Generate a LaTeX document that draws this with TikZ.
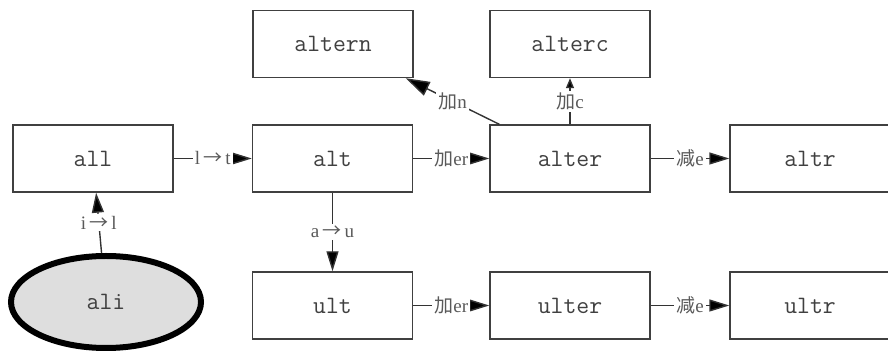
\documentclass[tikz,border=0pt]{standalone}
\usepackage{fontspec}
\setmainfont{Liberation Serif}
\newfontfamily\cjk{Noto Sans CJK SC}
\usetikzlibrary{arrows.meta,shapes.geometric}

\begin{document}
\begin{tikzpicture}[x=0.5pt, y=-0.5pt,
    word/.style={draw=black!75, line width=0.7pt, minimum width=80pt, minimum height=33.5pt,
        inner sep=0pt, text=black!75, font=\ttfamily\fontsize{12.5}{14}\selectfont},
    root/.style={ellipse, draw=black, line width=3pt, fill=black!13, minimum width=95pt,
        minimum height=46pt, inner sep=0pt, text=black!75, font=\ttfamily\fontsize{12.5}{14}\selectfont},
    rule/.style={draw=black!80, line width=0.7pt, -{Triangle[length=10pt, width=6pt, fill=black]}},
    tag/.style={fill=white, inner sep=1pt, text=black!65, font=\fontsize{9.5}{11}\selectfont}]

    % Page frame (pixel grid of the reference)
    \useasboundingbox (0,0) rectangle (888,351);

    % Word boxes
    \node[word] (all)    at (93, 158.5)  {all};
    \node[word] (alt)    at (332.5, 158.5) {alt};
    \node[word] (alter)  at (570, 158.5) {alter};
    \node[word] (altr)   at (810, 158.5) {altr};
    \node[word] (altern) at (333, 44)    {altern};
    \node[word] (alterc) at (570, 44)    {alterc};
    \node[word] (ult)    at (332.5, 305.5) {ult};
    \node[word] (ulter)  at (570, 305.5) {ulter};
    \node[word] (ultr)   at (810, 305.5) {ultr};

    % Starting word
    \node[root] (ali) at (106, 302) {ali};

    % Letter changes
    \draw[rule] (ali) -- node[tag] {i\,{\cjk →}\,l} (all);
    \draw[rule] (all) -- node[tag] {l\,{\cjk →}\,t} (alt);
    \draw[rule] (alt) -- node[tag] {a\,{\cjk →}\,u} (ult);

    % Adding and removing endings
    \draw[rule] (alt) -- node[tag] {{\cjk 加}er} (alter);
    \draw[rule] (ult) -- node[tag] {{\cjk 加}er} (ulter);
    \draw[rule] (alter) -- node[tag] {{\cjk 减}e} (altr);
    \draw[rule] (ulter) -- node[tag] {{\cjk 减}e} (ultr);
    \draw[rule, -{Triangle[length=12pt, width=7.5pt, fill=black]}] ([xshift=5pt]alter.north west)
        -- node[tag] {{\cjk 加}n} ([xshift=-4pt]altern.south east);
    \draw[rule, -{Triangle[length=5pt, width=4pt, fill=black]}] (alter) -- node[tag] {{\cjk 加}c} (alterc);

\end{tikzpicture}
\end{document}
